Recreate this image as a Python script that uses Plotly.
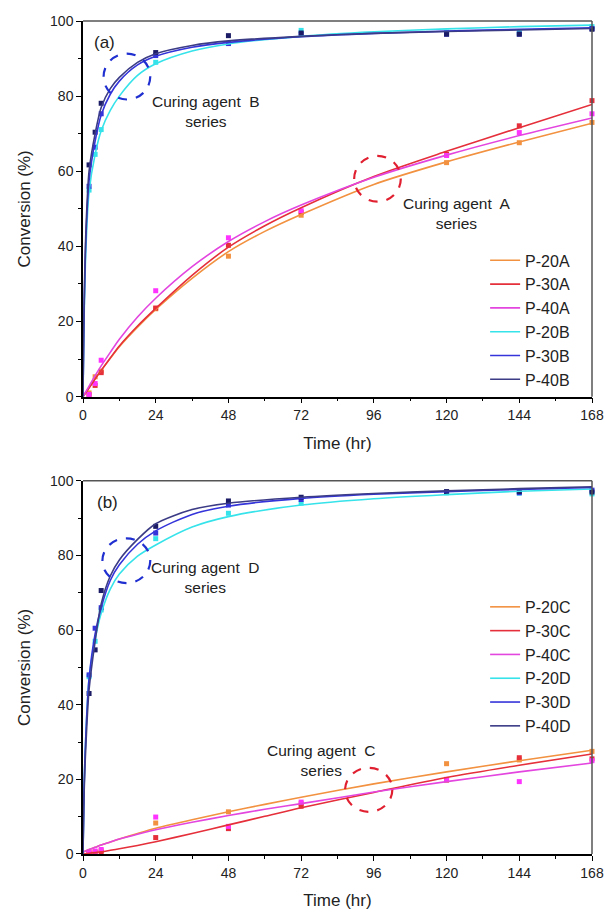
import plotly.graph_objects as go

# ---------------- data ----------------
t_pts = [2, 4, 6, 24, 48, 72, 120, 144, 168]

# panel (a) measured points
p20A_pts = [1.0, 5.3, 6.8, 23.4, 37.4, 48.3, 62.3, 67.6, 73.0]
p30A_pts = [0.5, 3.0, 6.4, 23.6, 40.3, 49.1, 64.5, 72.1, 78.8]
p40A_pts = [0.6, 3.5, 9.7, 28.2, 42.3, 49.5, 64.2, 70.3, 75.3]
p20B_pts = [55.0, 64.5, 71.1, 89.0, 94.0, 97.5, 97.0, 97.0, 98.5]
p30B_pts = [56.0, 66.4, 75.3, 90.8, 94.0, 96.5, 96.5, 96.5, 98.0]
p40B_pts = [61.7, 70.4, 78.1, 91.6, 96.1, 96.8, 96.5, 96.5, 97.8]

# panel (b) measured points
p20C_pts = [0.4, 0.6, 0.9, 8.3, 11.3, 13.5, 24.2, 25.2, 27.5]
p30C_pts = [0.2, 0.3, 0.5, 4.4, 6.8, 12.8, 19.8, 25.8, 25.5]
p40C_pts = [0.5, 0.8, 1.2, 9.9, 7.4, 13.9, 20.0, 19.4, 25.0]
p20D_pts = [47.5, 57.0, 65.4, 84.5, 91.3, 94.0, 96.8, 96.7, 96.5]
p30D_pts = [48.0, 60.5, 66.0, 86.0, 93.5, 95.0, 97.0, 96.8, 97.5]
p40D_pts = [43.0, 54.7, 70.6, 87.8, 94.6, 95.6, 97.1, 97.1, 97.0]

# fitted curves
t_slow = [0, 2, 4, 6, 9, 12, 18, 24, 36, 48, 60, 72, 96, 120, 144, 168]
p40A_fit = [0, 2.8, 5.6, 8.2, 11.8, 15.3, 21.2, 26.2, 34.6, 41.3, 46.6, 51.0, 58.4, 64.3, 69.5, 74.2]
p30A_fit = [0, 2.3, 4.7, 7.0, 10.3, 13.5, 18.8, 23.5, 32.3, 39.8, 45.5, 50.3, 58.6, 65.3, 71.6, 77.8]
p20A_fit = [0, 2.4, 4.8, 7.0, 10.2, 13.3, 18.5, 23.2, 31.5, 38.6, 44.0, 48.5, 56.5, 62.5, 67.8, 72.8]
p20C_fit = [0.5, 1.2, 1.8, 2.4, 3.2, 4.0, 5.5, 6.9, 9.2, 11.3, 13.3, 15.2, 18.8, 22.0, 25.0, 27.8]
p40C_fit = [0.5, 1.2, 1.8, 2.4, 3.2, 4.0, 5.3, 6.5, 8.5, 10.3, 12.0, 13.5, 16.6, 19.4, 22.0, 24.4]
p30C_fit = [0, 0.2, 0.4, 0.6, 1.0, 1.4, 2.3, 3.3, 5.5, 7.8, 10.1, 12.4, 16.5, 20.5, 23.8, 26.8]

t_fast = [0, 0.25, 0.5, 1, 2, 4, 6, 9, 12, 18, 24, 36, 48, 72, 96, 120, 144, 168]
p40B_fit = [0, 18, 30, 45, 60, 70, 77, 82, 85, 89, 91.3, 93.5, 94.7, 95.9, 96.7, 97.2, 97.6, 98.0]
p30B_fit = [0, 17, 28, 43, 57.5, 68, 75, 80.5, 84, 88.3, 90.6, 93.0, 94.3, 95.8, 96.7, 97.3, 97.8, 98.2]
p20B_fit = [0, 16, 26, 40, 54.5, 64.5, 70.8, 76.2, 80, 85.5, 88.6, 92.0, 93.9, 95.9, 97.1, 97.9, 98.5, 98.9]
p40D_fit = [0, 12, 20, 30, 44, 57, 67, 74.5, 78.8, 84.3, 88.5, 92.3, 94.0, 95.6, 96.6, 97.3, 97.9, 98.4]
p30D_fit = [0, 13, 22, 33, 47, 59, 66, 73.3, 77.5, 83.0, 86.6, 91.0, 93.2, 95.3, 96.4, 97.1, 97.7, 98.2]
p20D_fit = [0, 13, 22, 33, 47, 57.5, 64.5, 71.0, 75.0, 79.8, 82.8, 87.6, 90.4, 93.5, 95.2, 96.3, 97.2, 97.8]

x_ticks = [0, 24, 48, 72, 96, 120, 144, 168]
y_ticks = [0, 20, 40, 60, 80, 100]

# ---------------- style ----------------
C_OR = "#F2913F"
C_RD = "#E52F3A"
C_MG = "#E345DF"
C_CY = "#36E3EA"
C_BL = "#3434DA"
C_NV = "#3B3B86"
M_NV = "#1B1B66"
FONT = "Liberation Sans, Arial, sans-serif"

fig = go.Figure()

panels = [
    ("x", "y", "legend", [
        ("P-20A", t_slow, p20A_fit, p20A_pts, C_OR, C_OR),
        ("P-30A", t_slow, p30A_fit, p30A_pts, C_RD, C_RD),
        ("P-40A", t_slow, p40A_fit, p40A_pts, C_MG, "#FF33FF"),
        ("P-20B", t_fast, p20B_fit, p20B_pts, C_CY, C_CY),
        ("P-30B", t_fast, p30B_fit, p30B_pts, C_BL, C_BL),
        ("P-40B", t_fast, p40B_fit, p40B_pts, C_NV, M_NV),
    ]),
    ("x2", "y2", "legend2", [
        ("P-20C", t_slow, p20C_fit, p20C_pts, C_OR, C_OR),
        ("P-30C", t_slow, p30C_fit, p30C_pts, C_RD, C_RD),
        ("P-40C", t_slow, p40C_fit, p40C_pts, C_MG, "#FF33FF"),
        ("P-20D", t_fast, p20D_fit, p20D_pts, C_CY, C_CY),
        ("P-30D", t_fast, p30D_fit, p30D_pts, C_BL, C_BL),
        ("P-40D", t_fast, p40D_fit, p40D_pts, C_NV, M_NV),
    ]),
]

for xa, ya, lg, series in panels:
    for name, tf, fit, pts, lc, mc in series:
        fig.add_trace(go.Scatter(
            x=t_pts, y=pts, mode="markers", xaxis=xa, yaxis=ya,
            marker=dict(symbol="square", size=5, color=mc),
            showlegend=False, cliponaxis=False, hoverinfo="skip"))
    for name, tf, fit, pts, lc, mc in series:
        fig.add_trace(go.Scatter(
            x=tf, y=fit, mode="lines", name=name, xaxis=xa, yaxis=ya,
            line=dict(color=lc, width=1.6, shape="spline", smoothing=0.8),
            legend=lg))

axis_common = dict(
    showgrid=False, zeroline=False, showline=True, linecolor="black",
    linewidth=1.5, ticks="outside", ticklen=5, tickwidth=1.2,
    tickcolor="black", tickfont=dict(family=FONT, size=14, color="#222"),
    automargin=False,
)
x_common = dict(axis_common, range=[0, 168], tickvals=x_ticks,
                minor=dict(ticks="outside", ticklen=3, dtick=12, tick0=0,
                           tickcolor="black", tickwidth=1.2),
                title=dict(text="Time (hr)", font=dict(family=FONT, size=17, color="#222")))
y_common = dict(axis_common, range=[0, 100], tickvals=y_ticks,
                minor=dict(ticks="outside", ticklen=3, dtick=10, tick0=0,
                           tickcolor="black", tickwidth=1.2),
                title=dict(text="Conversion (%)", font=dict(family=FONT, size=17, color="#222")))

fig.update_layout(
    width=605, height=913,
    margin=dict(l=83, r=13, t=21, b=59),
    paper_bgcolor="white", plot_bgcolor="white",
    font=dict(family=FONT, size=14, color="#222"),
    xaxis=dict(x_common, domain=[0, 1], anchor="y"),
    yaxis=dict(y_common, domain=[0.549, 1], anchor="x"),
    xaxis2=dict(x_common, domain=[0, 1], anchor="y2"),
    yaxis2=dict(y_common, domain=[0, 0.448], anchor="x2"),
    legend=dict(x=0.79, y=0.733, xanchor="left", yanchor="top",
                font=dict(family=FONT, size=16, color="#222"),
                bgcolor="rgba(0,0,0,0)", tracegroupgap=0),
    legend2=dict(x=0.79, y=0.317, xanchor="left", yanchor="top",
                 font=dict(family=FONT, size=16, color="#222"),
                 bgcolor="rgba(0,0,0,0)", tracegroupgap=0),
    showlegend=True,
)

shapes = []
for xa, ya in [("x", "y"), ("x2", "y2")]:
    shapes.append(dict(type="line", xref=f"{xa} domain", yref=f"{ya} domain",
                       x0=0, x1=1, y0=1, y1=1, line=dict(color="#555", width=1.5)))
    shapes.append(dict(type="line", xref=f"{xa} domain", yref=f"{ya} domain",
                       x0=1, x1=1, y0=0, y1=1, line=dict(color="#555", width=1.5)))

# dashed circles
circles = [
    ("x", "y", 14.5, 85.2, 7.7, 6.1, "#1F2FD0"),
    ("x", "y", 97.2, 58.0, 7.7, 6.1, "#E02030"),
    ("x2", "y2", 14.3, 78.6, 7.9, 6.0, "#1F2FD0"),
    ("x2", "y2", 94.3, 17.2, 7.8, 5.9, "#E02030"),
]
for xa, ya, cx, cy, rx, ry, col in circles:
    shapes.append(dict(type="circle", xref=xa, yref=ya,
                       x0=cx - rx, x1=cx + rx, y0=cy - ry, y1=cy + ry,
                       line=dict(color=col, width=2.2, dash="dash")))
fig.update_layout(shapes=shapes)

ann_font = dict(family=FONT, size=15.5, color="#222")
annotations = [
    dict(text="(a)", xref="x", yref="y", x=7.2, y=94.3, showarrow=False,
         font=dict(family=FONT, size=17, color="#222")),
    dict(text="(b)", xref="x2", yref="y2", x=8.2, y=94.3, showarrow=False,
         font=dict(family=FONT, size=17, color="#222")),
    dict(text="Curing agent  B<br>series", xref="x", yref="y", x=40.5, y=75.8,
         showarrow=False, font=ann_font, align="center"),
    dict(text="Curing agent  A<br>series", xref="x", yref="y", x=123.5, y=48.8,
         showarrow=False, font=ann_font, align="center"),
    dict(text="Curing agent  D<br>series", xref="x2", yref="y2", x=40.5, y=74.0,
         showarrow=False, font=ann_font, align="center"),
    dict(text="Curing agent  C<br>series", xref="x2", yref="y2", x=78.7, y=25.0,
         showarrow=False, font=ann_font, align="center"),
]
fig.update_layout(annotations=annotations)

fig.write_html("out.html",
               config={"displayModeBar": False},
               post_script="document.body.style.margin='0';document.body.style.overflow='hidden';")
